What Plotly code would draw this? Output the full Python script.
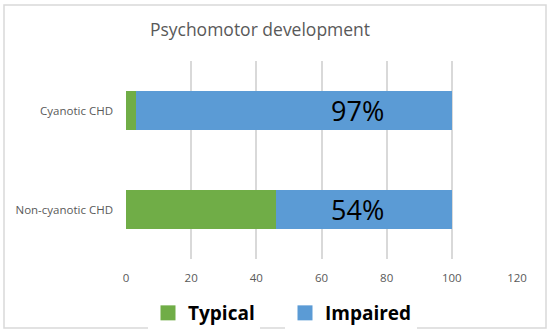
import plotly.graph_objects as go

categories = ["Non-cyanotic CHD", "Cyanotic CHD"]
typical = [46, 3]
impaired = [54, 97]
impaired_labels = ["54%", "97%"]
x_ticks = [0, 20, 40, 60, 80, 100, 120]

GREEN = "#70AD47"
BLUE = "#5B9BD5"
GRID = "#D9D9D9"
TEXT = "#595959"
FONT = "Open Sans"

L, R, T, B = 126, 33, 61, 74
W, H = 550, 333
pw, ph = W - L - R, H - T - B

fig = go.Figure()
fig.add_trace(go.Bar(y=categories, x=typical, name="Typical", orientation="h",
                     marker=dict(color=GREEN, line=dict(width=0)), showlegend=False))
fig.add_trace(go.Bar(y=categories, x=impaired, name="Impaired", orientation="h",
                     marker=dict(color=BLUE, line=dict(width=0)), showlegend=False))
# legend entries with larger square swatches
fig.add_trace(go.Scatter(x=[None], y=[None], mode="markers", name="Typical",
                         marker=dict(symbol="square", size=15, color=GREEN), legend="legend"))
fig.add_trace(go.Scatter(x=[None], y=[None], mode="markers", name="Impaired",
                         marker=dict(symbol="square", size=15, color=BLUE), legend="legend2"))

for cat, lab in zip(categories, impaired_labels):
    fig.add_annotation(x=71, y=cat, text=lab, showarrow=False,
                       font=dict(family=FONT, size=27, color="#000000"))

# figure border (paper coords)
fig.add_shape(type="rect", xref="paper", yref="paper",
              x0=(4 - L) / pw, x1=(546 - L) / pw,
              y0=(H - B - 328) / ph, y1=(H - B - 5) / ph,
              line=dict(color=GRID, width=1.5), fillcolor="rgba(0,0,0,0)", layer="above")

legend_font = dict(family=FONT, size=19, color="#000000", weight="bold")
fig.update_layout(
    width=W, height=H,
    margin=dict(l=L, r=R, t=T, b=B, autoexpand=False),
    barmode="stack",
    bargap=0.6,
    plot_bgcolor="white", paper_bgcolor="white",
    title=dict(text="Psychomotor development", x=260 / W, xref="container", xanchor="center",
               y=1 - 30 / H, yref="container", yanchor="middle",
               font=dict(family=FONT, size=17.5, color=TEXT)),
    xaxis=dict(range=[0, 120], tickvals=x_ticks, showgrid=True, gridcolor=GRID, gridwidth=1.5,
               zeroline=False, showline=False, ticks="", automargin=False,
               tickfont=dict(family=FONT, size=11.5, color=TEXT), ticklabelstandoff=10),
    yaxis=dict(showgrid=False, zeroline=False, showline=False, ticks="", automargin=False,
               tickfont=dict(family=FONT, size=11.5, color=TEXT), ticklabelstandoff=12),
    legend=dict(orientation="h", x=(148 - L) / pw, xanchor="left",
                y=-(313 - (H - B)) / ph, yanchor="middle", font=legend_font, itemwidth=30),
    legend2=dict(orientation="h", x=(285 - L) / pw, xanchor="left",
                 y=-(313 - (H - B)) / ph, yanchor="middle", font=legend_font, itemwidth=30),
    showlegend=True,
)

fig.write_html("out.html", config={"displayModeBar": False},
               post_script="document.body.style.margin='0px';")
